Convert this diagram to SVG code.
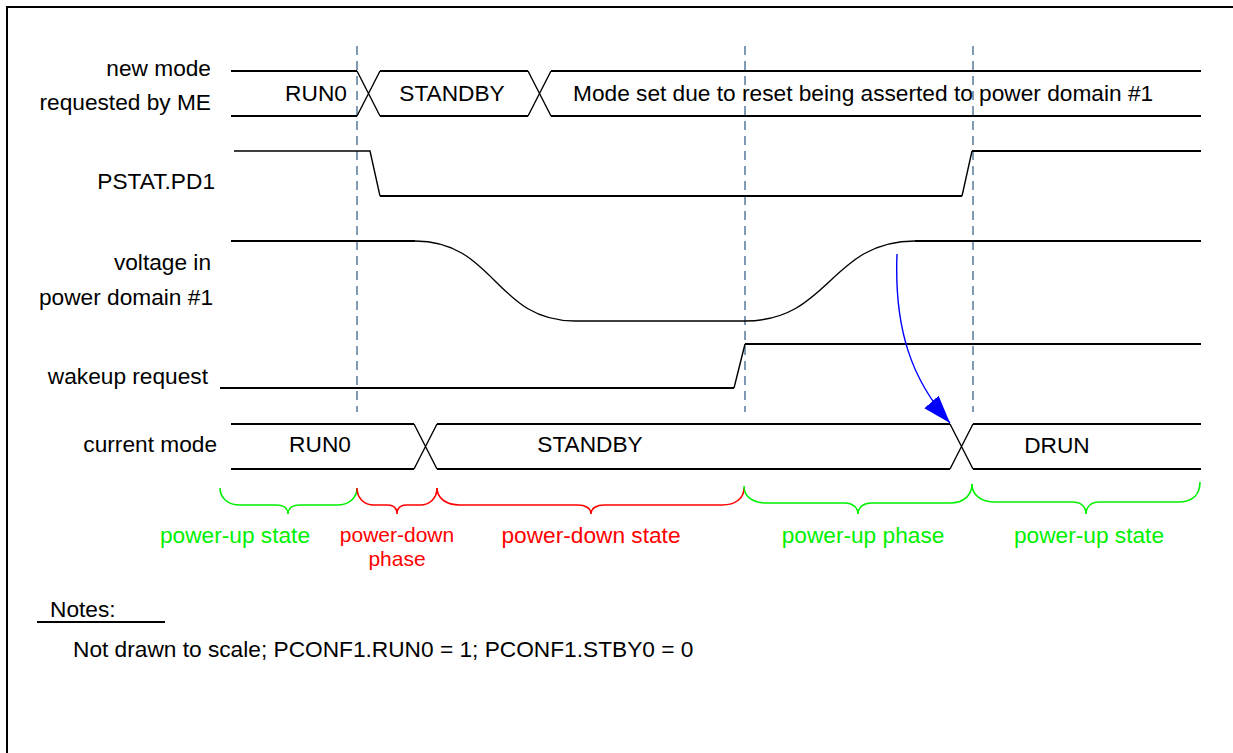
<svg xmlns="http://www.w3.org/2000/svg" width="1233" height="753" viewBox="0 0 1233 753">
<defs>
<style>
text{font-family:"Liberation Sans",Arial,sans-serif;font-size:22.7px;fill:#000}
.r{text-anchor:end}
.m{text-anchor:middle}
.sm{font-size:21px}
.sig{fill:none;stroke:#000;stroke-width:2}
.thin{fill:none;stroke:#000;stroke-width:1.4}
.dash{fill:none;stroke:#7f9ab3;stroke-width:2;stroke-dasharray:9 6}
.bg{fill:none;stroke:#00f000;stroke-width:1.6}
.br{fill:none;stroke:#ff0000;stroke-width:1.6}
.tg{fill:#00f000}
.tr{fill:#ff0000}
</style>
<marker id="ah" markerUnits="userSpaceOnUse" markerWidth="30" markerHeight="20" refX="28" refY="9.5" orient="auto">
<path d="M0,0 L28,9.5 L0,19 z" fill="#0000ff"/>
</marker>
</defs>
<rect width="1233" height="753" fill="#fff"/>
<path d="M7,753 V7 H1233" fill="none" stroke="#000" stroke-width="2"/>

<g id="guides">
<line class="dash" x1="357" y1="46" x2="357" y2="412"/>
<line class="dash" x1="745" y1="46" x2="745" y2="412"/>
<line class="dash" x1="973" y1="46" x2="973" y2="412"/>
</g>

<g id="sig-newmode">
<text class="r" x="211" y="76">new mode</text>
<text class="r" x="211" y="110">requested by ME</text>
<path class="sig" d="M231,71 H357 M231,116 H357 M380,71 H528 M380,116 H528 M551,71 H1201 M551,116 H1201"/>
<path class="thin" d="M357,71 L380,116 M357,116 L380,71 M528,71 L551,116 M528,116 L551,71"/>
<text class="m" x="316" y="101">RUN0</text>
<text class="m" x="452" y="101">STANDBY</text>
<text x="573" y="101">Mode set due to reset being asserted to power domain #1</text>
</g>

<g id="sig-pstat">
<text class="r" x="215" y="189">PSTAT.PD1</text>
<path class="thin" d="M234,151 H370 L380,196"/>
<path class="sig" d="M380,196 H962"/>
<path class="thin" d="M962,196 L972,151"/>
<path class="sig" d="M972,151 H1201"/>
</g>

<g id="sig-voltage">
<text class="r" x="211" y="270">voltage in</text>
<text class="r" x="213" y="305">power domain #1</text>
<path class="sig" d="M231,241 H415"/>
<path class="thin" d="M415,241 C495,241 495,321 575,321 H745 C830,321 830,241 915,241"/>
<path class="sig" d="M915,241 H1201"/>
</g>

<g id="sig-wakeup">
<text class="r" x="208" y="384">wakeup request</text>
<path class="sig" d="M220,388 H734"/>
<path class="thin" d="M734,388 L745,344"/>
<path class="sig" d="M745,344 H1201"/>
</g>

<g id="sig-current">
<text class="r" x="217" y="452">current mode</text>
<path class="sig" d="M231,424 H414 M231,469 H414 M437,424 H950 M437,469 H950 M973,424 H1201 M973,469 H1201"/>
<path class="thin" d="M414,424 L437,469 M414,469 L437,424 M950,424 L973,469 M950,469 L973,424"/>
<text class="m" x="320" y="452">RUN0</text>
<text class="m" x="590" y="452">STANDBY</text>
<text class="m" x="1057" y="453">DRUN</text>
</g>

<g id="connectors">
<path d="M897,254 C894,330 912,380 950,423" fill="none" stroke="#0000ff" stroke-width="1.4" marker-end="url(#ah)"/>
</g>

<g id="phase-pu1">
<path class="bg" d="M220,488 C220,498 228,505 240,505 H276 C283,505 288,508 288,514 C288,508 293,505 300,505 H337 C349,505 357,498 357,488"/>
<text class="m tg" x="235" y="543">power-up state</text>
</g>
<g id="phase-pd">
<path class="br" d="M357,488 C357,498 364,505 374,505 H387 C393,505 397,508 397,514 C397,508 401,505 407,505 H420 C430,505 437,498 437,488"/>
<text class="m tr sm" x="397" y="542">power-down</text>
<text class="m tr sm" x="397" y="566">phase</text>
</g>
<g id="phase-pds">
<path class="br" d="M437,488 C437,498 446,505 460,505 H578 C585,505 591,508 591,514 C591,508 597,505 604,505 H722 C736,505 744,498 744,488"/>
<text class="m tr" x="591" y="543">power-down state</text>
</g>
<g id="phase-pup">
<path class="bg" d="M744,486 C744,497 753,503 767,503 H845 C852,503 858,507 858,514 C858,507 864,503 871,503 H950 C964,503 972,495 972,484"/>
<text class="m tg" x="863" y="543">power-up phase</text>
</g>
<g id="phase-pu2">
<path class="bg" d="M972,484 C972,495 981,502 995,502 H1073 C1080,502 1086,506 1086,514 C1086,506 1092,502 1099,502 H1178 C1192,502 1200,495 1200,482"/>
<text class="m tg" x="1089" y="543">power-up state</text>
</g>

<g id="notes">
<text x="50" y="617">Notes:</text>
<line x1="37" y1="622" x2="165" y2="622" stroke="#000" stroke-width="2"/>
<text x="73" y="657">Not drawn to scale; PCONF1.RUN0 = 1; PCONF1.STBY0 = 0</text>
</g>
</svg>
